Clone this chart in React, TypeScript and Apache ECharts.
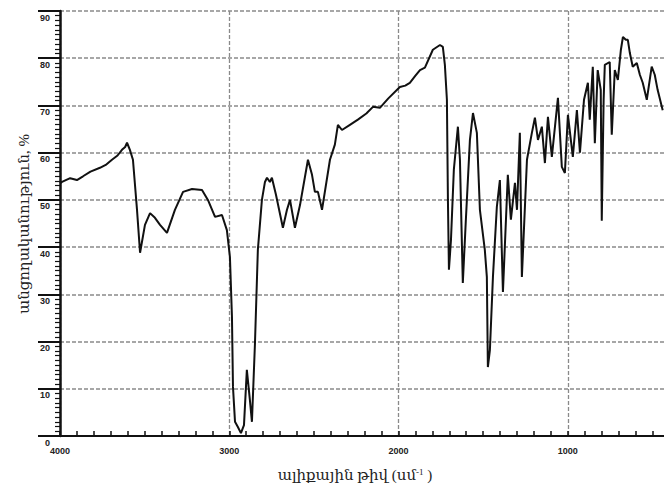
import React, { useEffect, useRef } from "react";
import * as echarts from "echarts";

const wavenumbers = [
  4000, 3988, 3940, 3900, 3864, 3820, 3764, 3730, 3693, 3660, 3634, 3615, 3604, 3587, 3569, 3545, 3527,
  3498, 3468, 3439, 3409, 3368, 3321, 3273, 3220, 3161, 3126, 3084, 3043, 3014, 2996, 2984, 2978,
  2966, 2949, 2931, 2913, 2896, 2878, 2866, 2848, 2831, 2807, 2789, 2777, 2760, 2748, 2724, 2683,
  2659, 2641, 2612, 2582, 2535, 2511, 2494, 2476, 2452, 2405, 2376, 2358, 2334, 2287, 2240, 2190,
  2151, 2110, 2060, 1992, 1960, 1933, 1900, 1873, 1844, 1797, 1755, 1738, 1726, 1714, 1708, 1702,
  1690, 1673, 1649, 1637, 1620, 1602, 1578, 1560, 1537, 1519, 1490, 1478, 1472, 1460, 1442, 1419,
  1401, 1383, 1354, 1336, 1312, 1300, 1283, 1271, 1241, 1212, 1194, 1176, 1153, 1135, 1117, 1094,
  1058, 1035, 1017, 999, 970, 946, 928, 904, 881, 870, 852, 840, 823, 805, 799, 788, 781, 752, 740,
  722, 704, 686, 674, 657, 645, 633, 616, 592, 574, 557, 533, 504, 486, 469, 439
];
const transmittance = [
  53.5, 53.8, 54.6, 54.2, 55.0, 56.0, 56.8, 57.4, 58.5, 59.4, 60.6, 61.2, 62.1, 60.6, 58.5, 47.9, 38.8,
  44.7, 47.2, 46.2, 44.7, 43.0, 47.9, 51.7, 52.3, 52.1, 50.0, 46.4, 46.8, 43.6, 37.9, 25.2, 10.4,
  3.0, 1.9, 0.6, 2.3, 14.0, 7.6, 3.0, 19.7, 39.4, 50.0, 53.8, 54.7, 53.8, 54.7, 51.1, 44.1,
  47.9, 50.0, 44.1, 48.9, 58.5, 55.3, 51.7, 51.7, 47.9, 58.5, 61.7, 65.9, 64.8, 65.9, 67.0, 68.3,
  69.7, 69.5, 71.5, 73.9, 74.2, 74.8, 76.3, 77.5, 78.0, 81.8, 82.8, 82.4, 78.6, 71.2, 50.0, 35.2,
  41.5, 56.4, 65.5, 58.5, 32.4, 45.8, 62.7, 68.4, 64.2, 47.9, 39.4, 33.7, 14.6, 18.2, 33.7, 48.5,
  54.2, 30.5, 55.3, 45.8, 53.6, 47.9, 64.2, 33.7, 58.5, 64.2, 67.4, 62.7, 65.5, 57.8, 67.6, 59.1,
  71.6, 57.0, 55.7, 68.0, 59.1, 69.0, 60.0, 71.2, 74.8, 67.0, 78.2, 62.0, 77.5, 73.3, 45.6, 71.2, 78.6, 79.2, 63.8,
  77.5, 75.4, 81.8, 84.5, 83.9, 83.9, 81.1, 78.2, 79.0, 76.5, 74.8, 71.2, 78.2, 76.5, 73.3, 69.0
];
const xMajorTicks = [4000, 3000, 2000, 1000];
const yTicks = [0, 10, 20, 30, 40, 50, 60, 70, 80, 90];
const xTitle = "ալիքային թիվ (սմ";
const xTitleSup = "-1";
const yTitle = "անցողականություն, %";

const CHART_W = 740;
const GRID_LEFT = 60;
const GRID_W = 677;
const GRID_TOP = 11;
const GRID_H = 425;

export default function App() {
  const ref = useRef<HTMLDivElement>(null);
  useEffect(() => {
    if (!ref.current) return;
    const chart = echarts.init(ref.current, null, { renderer: "svg" });
    const data = wavenumbers.map((w, i) => [w, transmittance[i]]);
    const gridColor = "#8a8a8a";
    const tickFont = {
      fontSize: 9,
      fontWeight: "bold" as const,
      fontFamily: "Liberation Sans, Arial, sans-serif",
      color: "#222",
    };
    chart.setOption({
      animation: false,
      backgroundColor: "#ffffff",
      grid: {
        left: GRID_LEFT,
        top: GRID_TOP,
        width: GRID_W,
        height: GRID_H,
        containLabel: false,
      },
      xAxis: {
        type: "value",
        min: 0,
        max: 4000,
        interval: 1000,
        inverse: true,
        position: "bottom",
        axisLine: { show: true, onZero: false, lineStyle: { color: "#111", width: 2 } },
        axisTick: { show: true, inside: true, length: 5, lineStyle: { color: "#111", width: 1.5 } },
        minorTick: { show: true, splitNumber: 10, length: 5, lineStyle: { color: "#111", width: 1.5 } },
        axisLabel: {
          ...tickFont,
          margin: 10,
          formatter: (v: number) => (xMajorTicks.includes(v) ? String(v) : ""),
        },
        splitLine: { show: true, lineStyle: { color: gridColor, width: 1.3, type: [4, 2] } },
      },
      yAxis: {
        type: "value",
        min: 0,
        max: 90,
        interval: 10,
        position: "left",
        axisLine: { show: true, onZero: false, lineStyle: { color: "#111", width: 2.5 } },
        axisTick: { show: true, length: 22, lineStyle: { color: "#111", width: 2 } },
        minorTick: { show: true, splitNumber: 10, length: 5, lineStyle: { color: "#111", width: 1.2 } },
        axisLabel: {
          ...tickFont,
          margin: 10,
          verticalAlign: "top",
          padding: [2, 0, 0, 0],
          formatter: (v: number) => (yTicks.includes(v) ? String(v) : ""),
        },
        splitLine: { show: true, lineStyle: { color: gridColor, width: 1.5, type: [4, 2] } },
      },
      series: [
        {
          type: "line",
          data,
          showSymbol: false,
          symbol: "none",
          lineStyle: { color: "#111", width: 2 },
          silent: true,
          z: 3,
        },
      ],
      graphic: [
        {
          type: "text",
          x: 24,
          y: 224,
          rotation: Math.PI / 2,
          style: {
            text: yTitle,
            fontSize: 15,
            fontFamily: "Liberation Serif, DejaVu Serif, serif",
            fill: "#222",
            align: "center",
            verticalAlign: "middle",
          },
        },
        {
          type: "text",
          x: 355,
          y: 475,
          style: {
            text: `{t|${xTitle}}{s|${xTitleSup}}{t| )}`,
            align: "center",
            verticalAlign: "middle",
            rich: {
              t: { fontSize: 15, fontFamily: "Liberation Serif, DejaVu Serif, serif", fill: "#222" },
              s: { fontSize: 9, fontFamily: "Liberation Serif, DejaVu Serif, serif", fill: "#222", verticalAlign: "top" },
            },
          },
        },
      ],
    });
    return () => chart.dispose();
  }, []);
  return (
    <div
      style={{
        position: "fixed",
        left: 0,
        top: 0,
        width: 664,
        height: 492,
        overflow: "hidden",
        background: "#fff",
      }}
    >
      <div ref={ref} style={{ width: CHART_W, height: 492 }} />
    </div>
  );
}
